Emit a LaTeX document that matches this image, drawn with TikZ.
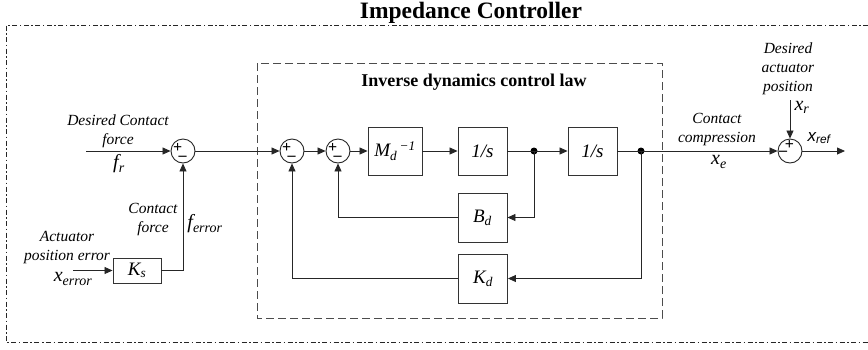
\documentclass[tikz,border=0pt]{standalone}
\usepackage{fontspec}
\setmainfont{Liberation Serif}
\newfontfamily\sansf{Liberation Sans}
\usetikzlibrary{arrows.meta,calc}
\tikzset{
  ln/.style={draw=black!85, line width=0.8pt},
  arr/.style={ln, -{Triangle[length=8pt,width=7pt]}},
  blk/.style={draw=black!80, line width=0.9pt, minimum width=49pt, minimum height=48pt, inner sep=0pt, font=\fontsize{19}{20}\selectfont\itshape},
  sumn/.style={circle, draw=black!85, line width=0.9pt, minimum size=24pt, inner sep=0pt},
  sgns/.style={inner sep=0pt, text height=0pt, text depth=0pt, font=\fontsize{16}{16}\selectfont\bfseries},
  lbl/.style={inner sep=0pt, align=center, font=\fontsize{15.5}{19}\selectfont\itshape},
  sym/.style={inner sep=0pt, font=\fontsize{20}{20}\selectfont\itshape},
  dotn/.style={circle, fill=black, inner sep=0pt, minimum size=7pt},
  outerb/.style={draw=black!85, line width=0.8pt, dash pattern=on 5pt off 2.5pt on 1.5pt off 2.5pt},
  innerb/.style={draw=black!70, line width=0.8pt, dash pattern=on 8pt off 4pt}
}
\newcommand{\sgnA}{\makebox[0pt][l]{\hspace{-10pt}\raisebox{-1.5pt}{+}}\makebox[0pt][l]{\hspace{-4.5pt}\raisebox{-9pt}{\textendash}}}
\newcommand{\sgnB}{\makebox[0pt][l]{\hspace{-5.2pt}\raisebox{1.7pt}{+}}\makebox[0pt][l]{\hspace{-11pt}\raisebox{-4pt}{\textendash}}}
\begin{document}
\begin{tikzpicture}[x=1pt,y=-1pt]
\useasboundingbox (0,0) rectangle (868,349);
% frames
\draw[outerb] (868,25) -- (6,25) -- (6,342) -- (868,342);
\draw[innerb] (257,63) rectangle (662,318);
\node[inner sep=0pt, font=\fontsize{23.5}{24}\selectfont\bfseries] (title) at (471,13) {Impedance Controller};
\node[inner sep=0pt, font=\fontsize{18}{20}\selectfont\bfseries] (ititle) at (474,82) {Inverse dynamics control law};
% summing junctions
\node[sumn] (s1) at (183,151) {};
\node[sumn] (s2) at (292,151) {};
\node[sumn] (s3) at (338,151) {};
\node[sumn] (s4) at (790,151) {};
\node[sgns] (g1) at (s1.center) {\sgnA};
\node[sgns] (g2) at (s2.center) {\sgnA};
\node[sgns] (g3) at (s3.center) {\sgnA};
\node[sgns] (g4) at (s4.center) {\sgnB};
% blocks
\node[blk, minimum width=54pt] (md) at (395,151) {M\textsubscript{d}\textsuperscript{\,\textminus1}};
\node[blk] (i1) at (482.5,151) {1/s};
\node[blk] (i2) at (592.5,151) {1/s};
\node[blk, minimum height=49pt] (bd) at (482.5,217.5) {B\textsubscript{d}};
\node[blk, minimum height=49pt] (kd) at (483,278.5) {K\textsubscript{d}};
\node[blk, minimum width=48pt, minimum height=25pt] (ks) at (137,270.5) {K\textsubscript{s}};
\node[dotn] (d1) at (534,151) {};
\node[dotn] (d2) at (641,151) {};
% free ends
\coordinate (fr) at (86,151);
\coordinate (xerr) at (73,270.5);
\coordinate (xr) at (790,100);
\coordinate (xref) at (845,151);
% connectors
\draw[arr] (fr) -- (s1.west);
\draw[arr] (s1.east) -- (s2.west);
\draw[arr] (s2.east) -- (s3.west);
\draw[arr] (s3.east) -- (md.west);
\draw[arr] (md.east) -- (i1.west);
\draw[ln] (i1.east) -- (d1.center);
\draw[arr] (d1.center) -- (i2.west);
\draw[ln] (i2.east) -- (d2.center);
\draw[arr] (d2.center) -- (s4.west);
\draw[arr] (s4.east) -- (xref);
\draw[arr] (xr) -- (s4.north);
\draw[arr] (d1.center) |- (bd.east);
\draw[arr] (bd.west) -| (s3.south);
\draw[arr] (d2.center) |- (kd.east);
\draw[arr] (kd.west) -| (s2.south);
\draw[arr] (xerr) -- (ks.west);
\draw[arr] (ks.east) -| (s1.south);
% labels
\node[lbl] (l1) at (118,131.5) {Desired Contact\\force};
\node[sym] (l2) at (119,164) {f\textsubscript{r}};
\node[lbl] (l3) at (153,219.5) {Contact\\force};
\node[sym] (l4) at (205,224) {f\textsubscript{error}};
\node[lbl] (l5) at (67,247.5) {Actuator\\position error};
\node[sym] (l6) at (73,279) {x\textsubscript{error}};
\node[lbl] (l7) at (717,129.5) {Contact\\compression};
\node[sym] (l8) at (719,162) {x\textsubscript{e}};
\node[lbl] (l9) at (788,69) {Desired\\actuator\\position};
\node[sym] (l10) at (802,107) {x\textsubscript{r}};
\node[inner sep=0pt, font=\sansf\fontsize{17}{17}\selectfont\itshape] (l11) at (819,138) {x\textsubscript{ref}};
\end{tikzpicture}
\end{document}
